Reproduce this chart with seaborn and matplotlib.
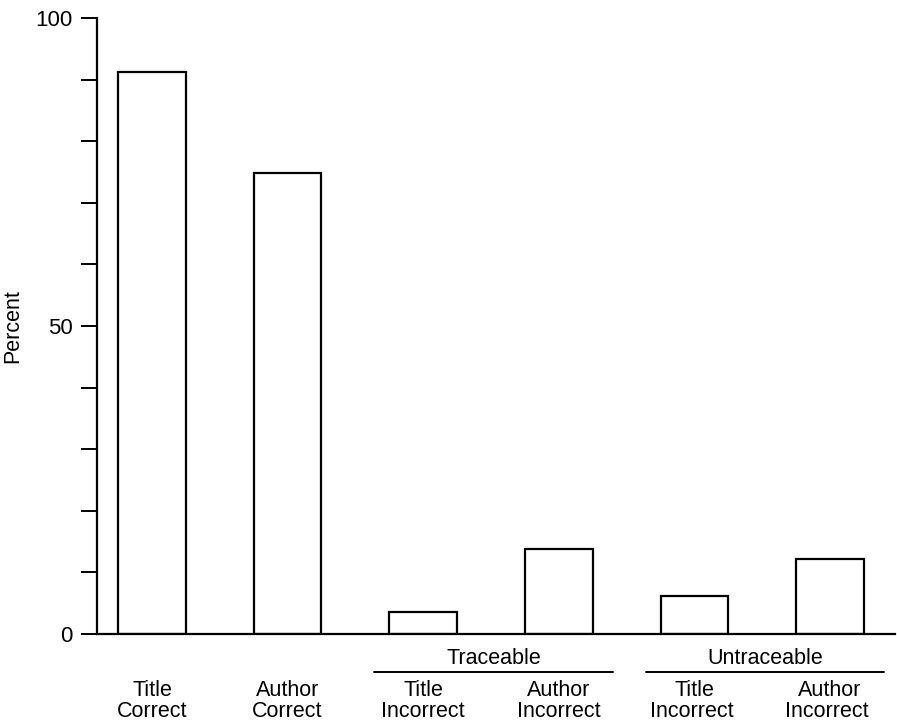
import matplotlib
matplotlib.use("Agg")
import matplotlib.pyplot as plt
import seaborn as sns
import pandas as pd

# values
categories = ["Title\nCorrect", "Author\nCorrect", "Title\nIncorrect", "Author\nIncorrect",
              "Title\nIncorrect ", "Author\nIncorrect "]
percent = [91.2, 74.8, 3.6, 13.8, 6.2, 12.2]
groups = ["Traceable", "Untraceable"]
group_members = [[2, 3], [4, 5]]

sns.set_style("ticks")
plt.rcParams['font.family'] = ['Liberation Sans', 'DejaVu Sans']

df = pd.DataFrame({"category": categories, "percent": percent})

fig = plt.figure(figsize=(8.97, 7.22), dpi=100)
ax = fig.add_axes([0.108, 0.1219, 0.890, 0.8532])

sns.barplot(data=df, x="category", y="percent", order=categories, width=0.5,
            color="white", edgecolor="black", linewidth=1.6, saturation=1, ax=ax)

ax.set_xlim(-0.406, 5.48)
ax.set_ylim(0, 100)
ax.set_yticks([0, 50, 100])
ax.set_yticks(range(0, 101, 10), minor=True)
ax.tick_params(axis="y", which="both", length=11.5, width=1.4, direction="out",
               labelsize=16, pad=6, color="black", labelcolor="black")
ax.tick_params(axis="x", length=0, labelsize=15.5, pad=33, labelcolor="black")
for lab in ax.get_xticklabels():
    lab.set_linespacing(1.0)

sns.despine(ax=ax)
for side in ["left", "bottom"]:
    ax.spines[side].set_linewidth(1.6)
    ax.spines[side].set_color("black")

ax.set_xlabel("")
ax.set_ylabel("Percent", fontsize=15.5, labelpad=9, color="black")

# group labels with underline
trans = ax.get_xaxis_transform()
for name, members in zip(groups, group_members):
    x0, x1 = members[0] - 0.36, members[-1] + 0.4
    ax.plot([x0, x1], [-0.0617, -0.0617], color="black", lw=1.4,
            transform=trans, clip_on=False)
    ax.text((x0 + x1) / 2, -0.039, name, ha="center", va="center",
            fontsize=15.5, color="black", transform=trans)

fig.savefig("out.png", dpi=100)
